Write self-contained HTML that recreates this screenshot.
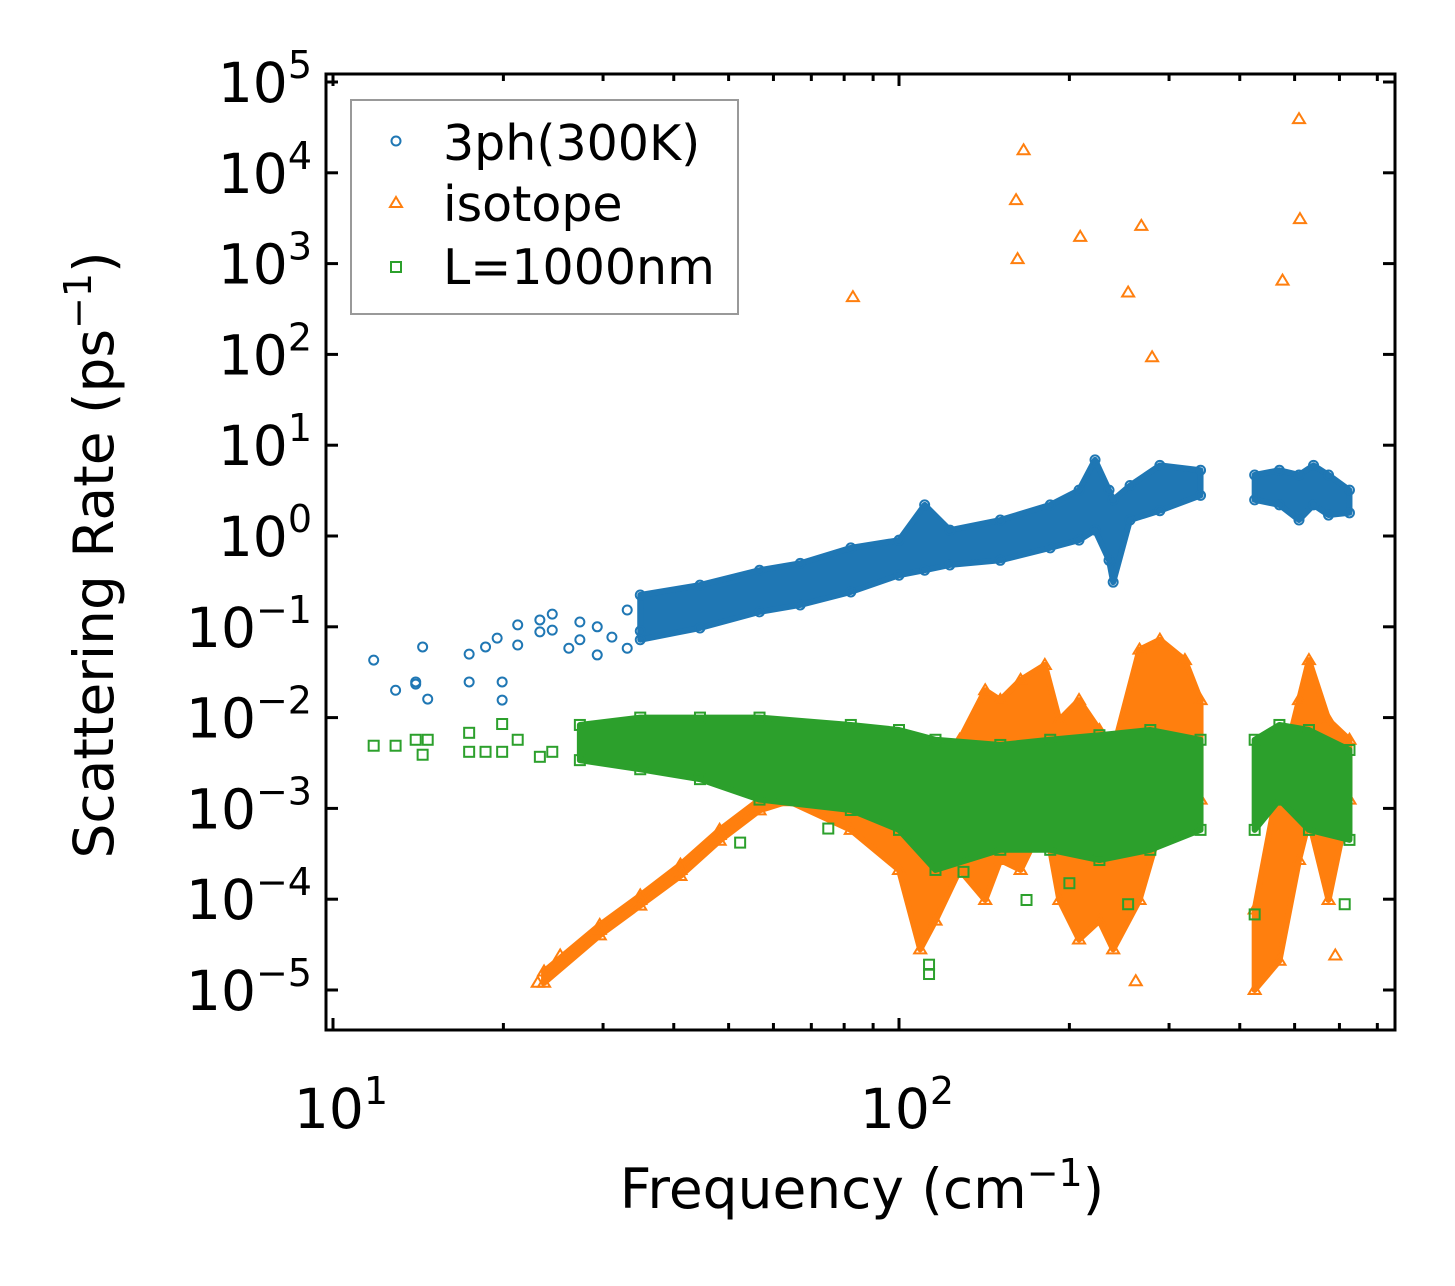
<!DOCTYPE html>
<html><head><meta charset="utf-8"><style>
html,body{margin:0;padding:0;background:#fff}
svg text{font-family:"DejaVu Sans","Liberation Sans",sans-serif;fill:#000}
</style></head><body>
<svg id="chart" width="1455" height="1281" viewBox="0 0 1455 1281" xmlns="http://www.w3.org/2000/svg">
<rect width="1455" height="1281" fill="#fff"/>
<g id="marks"></g>
<g id="axes"></g>
<g>
<rect x="351" y="100" width="387" height="214" fill="#fff" fill-opacity="0.85" stroke="#999" stroke-width="2"/>
<circle cx="396" cy="141" r="4.5" fill="none" stroke="#1f77b4" stroke-width="2"/>
<text x="443" y="160" font-size="49">3ph(300K)</text>
<path d="M396 197 L402 207 L390 207 Z" fill="none" stroke="#ff7f0e" stroke-width="2"/>
<text x="443" y="221" font-size="49">isotope</text>
<rect x="391" y="262" width="10" height="10" fill="none" stroke="#2ca02c" stroke-width="2"/>
<text x="443" y="284" font-size="49">L=1000nm</text>
</g>
<text x="862" y="1208" font-size="55" text-anchor="middle">Frequency (cm<tspan dy="-22" font-size="38">−1</tspan><tspan dy="22">)</tspan></text>
<text transform="translate(113,555) rotate(-90)" font-size="55" text-anchor="middle">Scattering Rate (ps<tspan dy="-22" font-size="38">−1</tspan><tspan dy="22">)</tspan></text>
</svg>
<script>
// ---- data ----
const blueFreq = [11.8,12.9,14.0,14.0,14.4,14.7,17.4,17.4,18.6,19.5,19.9,19.9,21.2,21.2,23.2,23.2,24.4,24.4,26.1,27.3,27.3,29.3,29.3,31.1,33.1,33.1,34.9];
const blueRate = [0.043,0.020,0.0234,0.0247,0.06,0.016,0.050,0.0247,0.06,0.075,0.0247,0.0156,0.105,0.063,0.119,0.088,0.138,0.092,0.058,0.072,0.113,0.049,0.1,0.077,0.153,0.058,0.09];
const blueBandFreq = [34.9,44.5,56.7,66.9,82.2,100,111,123,151,185,208,222,235,239,256,289,341,null,425,470,509,540,574,625];
const blueBandHi   = [0.224,0.288,0.42,0.50,0.74,0.90,2.2,1.16,1.5,2.2,3.2,6.9,3.2,2.5,3.6,6.0,5.3,null,4.7,5.3,4.7,6.0,4.7,3.2];
const blueBandLo   = [0.072,0.097,0.146,0.174,0.242,0.37,0.42,0.48,0.54,0.74,0.90,1.16,0.54,0.31,1.5,1.9,2.8,null,2.5,2.2,1.5,2.2,1.7,1.8];

const orangeFreq = [82.9,161,162,166,209,254,268,280,262,476,509,511,590,23.0,25.2,29.6,34.9,41.1,48.2,56.7];
const orangeRate = [427,5000,1120,17700,1970,480,2600,93,1.25e-5,650,39000,3090,2.4e-5,1.2e-5,2.4e-5,4.6e-5,9.8e-5,2.1e-4,5.1e-4,1.1e-3];
const orangeBandFreq = [23.6,29.6,34.9,41.1,48.2,56.7,63.8,82.2,100,109,116,128,142,151,164,181,192,208,226,239,266,289,320,341,null,425,470,509,530,574,625];
const orangeBandHi   = [1.6e-5,5.2e-5,1.1e-4,2.4e-4,5.8e-4,1.25e-3,1.8e-3,1.25e-3,9.6e-4,1.25e-3,3.4e-3,5.7e-3,0.02,0.0156,0.026,0.038,0.0094,0.0156,0.0073,4.4e-3,0.056,0.072,0.043,0.0156,null,7.7e-5,2.1e-3,0.0156,0.043,0.0094,5.7e-3];
const orangeBandLo   = [1.2e-5,4.0e-5,8.5e-5,1.8e-4,4.4e-4,0.95e-3,1.2e-3,5.8e-4,2.1e-4,2.8e-5,5.8e-5,2.1e-4,9.8e-5,2.7e-4,2.1e-4,7.4e-4,9.8e-5,3.6e-5,5.8e-5,2.8e-5,9.8e-5,5.8e-4,1.25e-3,1.25e-3,null,1.0e-5,2.1e-5,2.7e-4,7.4e-4,9.8e-5,1.25e-3];

const greenFreq = [11.8,12.9,14.0,14.7,14.4,17.4,17.4,18.6,19.9,19.9,21.2,23.2,24.4,52.4,113,113,168,254,425,613,75,130,200];
const greenRate = [4.9e-3,4.9e-3,5.7e-3,5.7e-3,3.9e-3,6.8e-3,4.2e-3,4.2e-3,8.5e-3,4.2e-3,5.7e-3,3.7e-3,4.2e-3,4.2e-4,1.9e-5,1.5e-5,9.8e-5,8.8e-5,6.8e-5,8.8e-5,6.0e-4,2.0e-4,1.5e-4];
const greenBandFreq = [27.3,34.9,44.5,56.7,82.2,100,116,151,185,226,278,341,null,425,470,530,625];
const greenBandHi   = [8.3e-3,0.01,0.01,0.01,8.3e-3,7.3e-3,5.7e-3,5.0e-3,5.7e-3,6.4e-3,7.3e-3,5.7e-3,null,5.7e-3,8.3e-3,7.3e-3,4.4e-3];
const greenBandLo   = [3.4e-3,2.7e-3,2.1e-3,1.25e-3,9.6e-4,5.8e-4,2.1e-4,3.5e-4,3.5e-4,2.7e-4,3.5e-4,5.8e-4,null,5.8e-4,1.25e-3,5.8e-4,4.5e-4];

const yTickExp = [5,4,3,2,1,0,-1,-2,-3,-4,-5];
const xTickExp = [1,2];

// ---- axes ----
const L=326,R=1395,T=74,B=1030;
const X=f=>333+(Math.log10(f)-1)*566;
const Y=v=>536-Math.log10(v)*90.8;
const NS="http://www.w3.org/2000/svg";
function mk(tag,attrs,parent){const e=document.createElementNS(NS,tag);for(const k in attrs)e.setAttribute(k,attrs[k]);parent.appendChild(e);return e;}
const marks=document.getElementById('marks'), axes=document.getElementById('axes');

function band(fr,hi,lo,color,name){
  let segs=[[]];
  fr.forEach((f,i)=>{ if(f===null){segs.push([]);} else segs[segs.length-1].push(i); });
  segs.forEach((s,si)=>{
    if(!s.length) return;
    let d='M'+s.map(i=>X(fr[i])+' '+Y(hi[i])).join(' L ');
    d+=' L '+s.slice().reverse().map(i=>X(fr[i])+' '+Y(lo[i])).join(' L ')+' Z';
    const p=mk('path',{d:d,fill:color,stroke:color,'stroke-width':6,'stroke-linejoin':'round'},marks);
    
    
  });
}
function marker(type,f,v,color,name){
  const x=X(f),y=Y(v);let e;
  if(type==='c') e=mk('circle',{cx:x,cy:y,r:4.5,fill:'none',stroke:color,'stroke-width':2},marks);
  else if(type==='t') e=mk('path',{d:`M${x} ${y-6} L${x+6} ${y+4} L${x-6} ${y+4} Z`,fill:'none',stroke:color,'stroke-width':2},marks);
  else e=mk('rect',{x:x-5,y:y-5,width:10,height:10,fill:'none',stroke:color,'stroke-width':2},marks);
  
  
}
function edgeMarkers(type,fr,hi,lo,color,name){
  fr.forEach((f,i)=>{ if(f===null) return; marker(type,f,hi[i],color,name+'-edge'); marker(type,f,lo[i],color,name+'-edge'); });
}
const BLUE='#1f77b4',ORANGE='#ff7f0e',GREEN='#2ca02c';
band(blueBandFreq,blueBandHi,blueBandLo,BLUE,'3ph');
edgeMarkers('c',blueBandFreq,blueBandHi,blueBandLo,BLUE,'3ph');
blueFreq.forEach((f,i)=>marker('c',f,blueRate[i],BLUE,'3ph-point'));
band(orangeBandFreq,orangeBandHi,orangeBandLo,ORANGE,'isotope');
edgeMarkers('t',orangeBandFreq,orangeBandHi,orangeBandLo,ORANGE,'isotope');
orangeFreq.forEach((f,i)=>marker('t',f,orangeRate[i],ORANGE,'isotope-point'));
band(greenBandFreq,greenBandHi,greenBandLo,GREEN,'boundary');
edgeMarkers('s',greenBandFreq,greenBandHi,greenBandLo,GREEN,'boundary');
greenFreq.forEach((f,i)=>marker('s',f,greenRate[i],GREEN,'boundary-point'));

const frame=mk('rect',{x:L,y:T,width:R-L,height:B-T,fill:'none',stroke:'#000','stroke-width':3},axes);


yTickExp.forEach(e=>{
  const y=Y(Math.pow(10,e));
  mk('line',{x1:L,x2:L+12,y1:y,y2:y,stroke:'#000','stroke-width':3},axes);
  mk('line',{x1:R,x2:R-12,y1:y,y2:y,stroke:'#000','stroke-width':3},axes);
  const t=mk('text',{x:312,y:y+20,'font-size':55,'text-anchor':'end'},axes);
  
  
  t.innerHTML='10<tspan dy="-24" font-size="38">'+(e<0?'−'+(-e):e)+'</tspan>';
});
for(let d=1;d<=2;d++){
  for(let m=1;m<=9;m++){
    const f=m*Math.pow(10,d); const x=X(f);
    if(x<L||x>R) continue;
    const len=m===1?12:7;
    mk('line',{x1:x,x2:x,y1:B,y2:B-len,stroke:'#000','stroke-width':3},axes);
    mk('line',{x1:x,x2:x,y1:T,y2:T+len,stroke:'#000','stroke-width':3},axes);
  }
}
xTickExp.forEach(e=>{
  const x=X(Math.pow(10,e));
  const t=mk('text',{x:x+8,y:1128,'font-size':55,'text-anchor':'middle'},axes);
  
  
  t.innerHTML='10<tspan dy="-24" font-size="38">'+e+'</tspan>';
});
</script>
</body></html>
